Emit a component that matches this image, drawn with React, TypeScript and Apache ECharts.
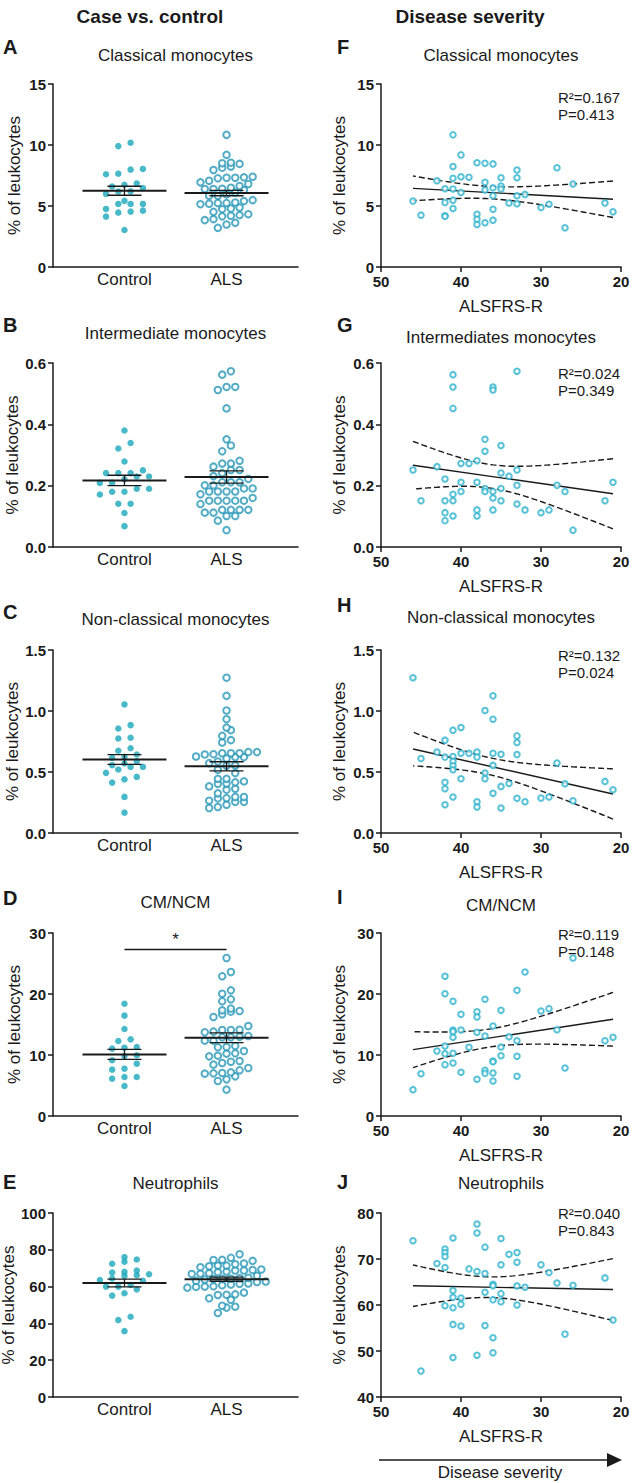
import React, { useEffect, useRef } from "react";
import * as echarts from "echarts";

const FONT = "'Liberation Sans', Arial, Helvetica, sans-serif";
const CTRL_COLOR = "#19a8bc";
const ALS_COLOR = "#2797b6";
const SEV_COLOR = "#2db3cd";
const INK = "#1a1a1a";

// ---------- texts ----------
const headers = ["Case vs. control", "Disease severity"];
const titlesLeft = ["Classical monocytes", "Intermediate monocytes", "Non-classical monocytes", "CM/NCM", "Neutrophils"];
const titlesRight = ["Classical monocytes", "Intermediates monocytes", "Non-classical monocytes", "CM/NCM", "Neutrophils"];
const lettersLeft = ["A", "B", "C", "D", "E"];
const lettersRight = ["F", "G", "H", "I", "J"];
const groupLabels = ["Control", "ALS"];
const yName = "% of leukocytes";
const xNameRight = "ALSFRS-R";
const rSquared = ["0.167", "0.024", "0.132", "0.119", "0.040"];
const pValues = ["0.413", "0.349", "0.024", "0.148", "0.843"];

// ---------- axes ----------
const yMinL = [0, 0, 0, 0, 0];
const yMaxL = [15, 0.6, 1.5, 30, 100];
const yStepL = [5, 0.2, 0.5, 10, 20];
const yMinR = [0, 0, 0, 0, 40];
const yMaxR = [15, 0.6, 1.5, 30, 80];
const yStepR = [5, 0.2, 0.5, 10, 10];
const yDecimals = [0, 1, 1, 0, 0];
const scoreMin = 20;
const scoreMax = 50;
const scoreStep = 10;

// ---------- control values (left column) ----------
const ctrlClassical = [10.18, 9.91, 8.04, 7.98, 7.65, 7.6, 6.85, 6.74, 6.6, 6.47, 6.2, 6.19, 5.99, 5.42, 5.17, 5.17, 5.17, 4.76, 4.62, 4.54, 4.46, 4.13, 3.03];
const ctrlIntermediate = [0.38, 0.339, 0.321, 0.279, 0.25, 0.241, 0.241, 0.241, 0.23, 0.23, 0.221, 0.209, 0.209, 0.19, 0.19, 0.18, 0.18, 0.171, 0.141, 0.141, 0.111, 0.068];
const ctrlNonClassical = [1.054, 0.884, 0.857, 0.781, 0.775, 0.695, 0.674, 0.643, 0.624, 0.616, 0.588, 0.57, 0.556, 0.542, 0.542, 0.52, 0.493, 0.46, 0.44, 0.413, 0.296, 0.167];
const ctrlRatio = [18.4, 16.45, 14.26, 12.57, 12.3, 11.31, 11.2, 11.04, 9.95, 9.84, 9.13, 8.58, 7.76, 7.6, 6.39, 6.39, 6.12, 4.92];
const ctrlNeutrophils = [76.0, 74.7, 73.5, 72.4, 68.7, 68.0, 67.6, 66.7, 66.2, 65.8, 64.4, 63.6, 63.1, 60.9, 60.0, 60.0, 58.5, 56.4, 55.1, 43.6, 41.8, 35.8];

// ---------- ALS patients: [ALSFRS-R, value] ----------
const alsClassical = [
  [46, 5.4], [45, 4.25], [43, 7.07], [42, 6.42], [42, 5.29], [42, 4.2], [42, 4.15],
  [41, 10.83], [41, 8.23], [41, 7.27], [41, 6.39], [41, 5.48], [41, 4.8],
  [40, 9.19], [40, 7.4], [40, 6.11], [39, 7.35], [38, 8.55], [38, 4.33], [38, 3.92], [38, 3.48],
  [37, 8.5], [37, 6.94], [37, 6.31], [37, 3.62], [36, 8.45], [36, 6.5], [36, 5.84], [36, 4.74], [36, 3.84],
  [35, 7.32], [35, 6.64], [35, 6.39], [34, 5.24], [33, 7.95], [33, 7.32], [33, 5.84], [33, 5.18],
  [32, 5.95], [30, 4.88], [29, 5.15], [28, 8.14], [27, 3.21], [26, 6.8], [22, 5.24], [21, 4.52],
];
const alsIntermediate = [
  [46, 0.251], [45, 0.151], [43, 0.262], [42, 0.222], [42, 0.151], [42, 0.112], [42, 0.086],
  [41, 0.562], [41, 0.522], [41, 0.452], [41, 0.172], [41, 0.151], [41, 0.101],
  [40, 0.272], [40, 0.211], [40, 0.181], [39, 0.272], [38, 0.281], [38, 0.211], [38, 0.121], [38, 0.101],
  [37, 0.351], [37, 0.312], [37, 0.191], [37, 0.181], [36, 0.522], [36, 0.512], [36, 0.181], [36, 0.16], [36, 0.121],
  [35, 0.331], [35, 0.241], [35, 0.191], [35, 0.151], [34, 0.231], [33, 0.573], [33, 0.251], [33, 0.201], [33, 0.14],
  [32, 0.121], [30, 0.112], [29, 0.121], [28, 0.201], [27, 0.181], [26, 0.055], [22, 0.151], [21, 0.211],
];
const alsNonClassical = [
  [46, 1.273], [45, 0.611], [43, 0.663], [42, 0.761], [42, 0.622], [42, 0.415], [42, 0.363], [42, 0.232],
  [41, 0.843], [41, 0.627], [41, 0.586], [41, 0.551], [41, 0.518], [41, 0.295],
  [40, 0.864], [40, 0.654], [40, 0.444], [39, 0.654], [38, 0.663], [38, 0.622], [38, 0.256], [38, 0.213],
  [37, 1.004], [37, 0.491], [37, 0.444], [36, 1.124], [36, 0.933], [36, 0.654], [36, 0.554], [36, 0.325],
  [35, 0.646], [35, 0.382], [35, 0.205], [34, 0.406], [33, 0.796], [33, 0.742], [33, 0.644], [33, 0.284],
  [32, 0.256], [30, 0.286], [29, 0.295], [28, 0.573], [27, 0.404], [26, 0.265], [22, 0.423], [21, 0.355],
];
const alsRatio = [
  [46, 4.32], [45, 6.94], [43, 10.66], [42, 22.9], [42, 20.05], [42, 11.48], [42, 10.22], [42, 8.42],
  [41, 18.8], [41, 14.1], [41, 13.83], [41, 12.9], [41, 10.27], [41, 8.69],
  [40, 16.67], [40, 14.1], [40, 7.16], [39, 11.26], [38, 17.1], [38, 16.23], [38, 13.72], [38, 6.01],
  [37, 19.13], [37, 13.11], [37, 7.49], [37, 6.99], [36, 14.75], [36, 9.02], [36, 8.9], [36, 7.05], [36, 5.74],
  [35, 17.32], [35, 11.31], [35, 9.89], [34, 13.0], [33, 20.6], [33, 12.35], [33, 9.78], [33, 6.5],
  [32, 23.6], [30, 17.21], [29, 17.6], [28, 14.15], [27, 7.87], [26, 25.9], [22, 12.35], [21, 12.9],
];
const alsNeutrophils = [
  [46, 73.96], [45, 45.67], [43, 69.02], [42, 72.15], [42, 71.42], [42, 70.55], [42, 68.15], [42, 59.85],
  [41, 74.55], [41, 63.13], [41, 61.67], [41, 59.42], [41, 55.78], [41, 48.58],
  [40, 61.53], [40, 60.15], [40, 55.42], [39, 67.85], [38, 77.6], [38, 75.64], [38, 67.27], [38, 49.09],
  [37, 72.58], [37, 66.84], [37, 62.76], [37, 55.56], [36, 64.51], [36, 64.2], [36, 61.16], [36, 52.87], [36, 49.6],
  [35, 74.47], [35, 68.73], [35, 62.47], [35, 60.73], [34, 71.05], [33, 71.42], [33, 69.31], [33, 64.15], [33, 60.0],
  [32, 63.85], [30, 68.73], [29, 67.05], [28, 64.8], [27, 53.67], [26, 64.29], [22, 65.89], [21, 56.73],
];

// ---------- mean ± SEM ----------
const meanCtrl = [6.25, 0.217, 0.602, 10.1, 62.0];
const semCtrl = [0.37, 0.017, 0.04, 0.82, 2.1];
const meanALS = [6.06, 0.228, 0.547, 12.84, 64.0];
const semALS = [0.22, 0.02, 0.037, 0.8, 1.1];
const sigBarValue = 27.4; // CM/NCM significance bar

const ctrlSets = [ctrlClassical, ctrlIntermediate, ctrlNonClassical, ctrlRatio, ctrlNeutrophils];
const alsSets = [alsClassical, alsIntermediate, alsNonClassical, alsRatio, alsNeutrophils];

// ---------- layout ----------
const rowTop = [84, 363, 650, 933, 1213];
const rowH = [183, 184, 183, 183, 184];
const leftX = 53;
const leftW = 245;
const rightX = 381;
const rightW = 240;
const catMin = 0.3;
const catMax = 2.7;
const titleYL = [55, 333, 619, 902, 1183];
const titleYR = [55, 337, 617, 905, 1183];
const letterYL = [47, 325, 612, 898, 1182];
const letterYR = [47, 325, 605, 897, 1182];
const statDY = [13, 10, 5, 1, 0];

function swarm(values: number[], center: number, gi: number, spacingPx: number, rowPx: number) {
  const pxPerY = rowH[gi] / (yMaxL[gi] - yMinL[gi]);
  const pxPerX = leftW / (catMax - catMin);
  const sorted = [...values].sort((a, b) => a - b);
  const rows: number[][] = [];
  let cur: number[] = [];
  for (const v of sorted) {
    if (cur.length && (v - cur[0]) * pxPerY >= rowPx) {
      rows.push(cur);
      cur = [];
    }
    cur.push(v);
  }
  if (cur.length) rows.push(cur);
  const out: number[][] = [];
  rows.forEach((row) => {
    const n = row.length;
    // alternate placement order so the row is not a diagonal
    const order = row.map((v, i) => ({ v, i }));
    order.forEach((o, k) => {
      out.push([center + ((k - (n - 1) / 2) * spacingPx) / pxPerX, o.v]);
    });
  });
  return out;
}

function tQuantile(df: number) {
  const z = 1.959964;
  return z + (z ** 3 + z) / (4 * df) + (5 * z ** 5 + 16 * z ** 3 + 3 * z) / (96 * df * df);
}

function regression(pts: number[][]) {
  const n = pts.length;
  const xm = pts.reduce((s, p) => s + p[0], 0) / n;
  const ym = pts.reduce((s, p) => s + p[1], 0) / n;
  let sxx = 0;
  let sxy = 0;
  pts.forEach((p) => {
    sxx += (p[0] - xm) ** 2;
    sxy += (p[0] - xm) * (p[1] - ym);
  });
  const b = sxy / sxx;
  const a = ym - b * xm;
  let sse = 0;
  pts.forEach((p) => {
    sse += (p[1] - a - b * p[0]) ** 2;
  });
  const s = Math.sqrt(sse / (n - 2));
  const t = tQuantile(n - 2);
  const xs = pts.map((p) => p[0]);
  const x0 = Math.min(...xs);
  const x1 = Math.max(...xs);
  const line = [
    [x0, a + b * x0],
    [x1, a + b * x1],
  ];
  const upper: number[][] = [];
  const lower: number[][] = [];
  const steps = 80;
  for (let k = 0; k <= steps; k++) {
    const x = x0 + ((x1 - x0) * k) / steps;
    const h = t * s * Math.sqrt(1 / n + (x - xm) ** 2 / sxx);
    upper.push([x, a + b * x + h]);
    lower.push([x, a + b * x - h]);
  }
  return { line, upper, lower };
}

const axisLineStyle = { color: INK, width: 1.5 };

function buildOption() {
  const grid: any[] = [];
  const xAxis: any[] = [];
  const yAxis: any[] = [];
  const series: any[] = [];
  const graphic: any[] = [];

  for (let i = 0; i < 5; i++) {
    grid.push({ left: leftX, top: rowTop[i], width: leftW, height: rowH[i], containLabel: false, outerBoundsMode: "none" });
  }
  for (let i = 0; i < 5; i++) {
    grid.push({ left: rightX, top: rowTop[i], width: rightW, height: rowH[i], containLabel: false, outerBoundsMode: "none" });
  }

  const yAxisBase = (gi: number, min: number, max: number, step: number, dec: number, gap: number) => ({
    type: "value",
    gridIndex: gi,
    min,
    max,
    interval: step,
    axisLine: { show: true, lineStyle: axisLineStyle },
    axisTick: { show: true, length: 5, lineStyle: axisLineStyle },
    splitLine: { show: false },
    axisLabel: {
      fontFamily: FONT,
      fontWeight: "bold",
      fontSize: 15,
      color: INK,
      margin: 7,
      formatter: (v: number) => v.toFixed(dec),
    },
    name: yName,
    nameLocation: "middle",
    nameRotate: 90,
    nameGap: gap,
    nameTextStyle: { fontFamily: FONT, fontSize: 17, color: INK },
  });

  // left column
  for (let i = 0; i < 5; i++) {
    xAxis.push({
      type: "value",
      gridIndex: i,
      min: catMin,
      max: catMax,
      axisLine: { show: true, lineStyle: axisLineStyle },
      axisTick: { show: false },
      splitLine: { show: false },
      axisLabel: {
        customValues: [1, 2],
        formatter: (v: number) => groupLabels[Math.round(v) - 1] ?? "",
        fontFamily: FONT,
        fontSize: 17,
        color: INK,
        margin: 4,
      },
    });
    yAxis.push(yAxisBase(i, yMinL[i], yMaxL[i], yStepL[i], yDecimals[i], 30));

    const ctrlPts = swarm(ctrlSets[i], 1, i, 12.3, 6.5);
    const alsPts = swarm(alsSets[i].map((p) => p[1]), 2, i, 8.7, 6.5);

    const ctrlSeries: any = {
      type: "scatter",
      xAxisIndex: i,
      yAxisIndex: i,
      data: ctrlPts,
      symbol: "circle",
      symbolSize: 6.5,
      itemStyle: { color: CTRL_COLOR },
      z: 2,
      silent: true,
    };
    if (i === 3) {
      ctrlSeries.markLine = {
        silent: true,
        symbol: ["none", "none"],
        lineStyle: { color: INK, width: 1.3, type: "solid" },
        label: { show: true, position: "middle", formatter: "*", fontSize: 17, color: INK, fontFamily: FONT, distance: 1 },
        data: [[{ coord: [1, sigBarValue] }, { coord: [2, sigBarValue] }]],
      };
    }
    series.push(ctrlSeries);
    series.push({
      type: "scatter",
      xAxisIndex: i,
      yAxisIndex: i,
      data: alsPts,
      symbol: "emptyCircle",
      symbolSize: 6.5,
      itemStyle: { color: ALS_COLOR, borderColor: ALS_COLOR, borderWidth: 1.5 },
      z: 2,
      silent: true,
    });
    series.push({
      type: "custom",
      xAxisIndex: i,
      yAxisIndex: i,
      z: 5,
      silent: true,
      encode: { x: 0, y: 1 },
      data: [
        [1, meanCtrl[i], semCtrl[i]],
        [2, meanALS[i], semALS[i]],
      ],
      renderItem: (params: any, api: any) => {
        const x = api.value(0);
        const m = api.value(1);
        const s = api.value(2);
        const c = api.coord([x, m]);
        const hi = api.coord([x, m + s]);
        const lo = api.coord([x, m - s]);
        const st = { stroke: INK, lineWidth: 1.3 };
        return {
          type: "group",
          children: [
            { type: "line", shape: { x1: c[0] - 42, y1: c[1], x2: c[0] + 42, y2: c[1] }, style: { stroke: INK, lineWidth: 2 } },
            { type: "line", shape: { x1: c[0], y1: hi[1], x2: c[0], y2: lo[1] }, style: st },
            { type: "line", shape: { x1: c[0] - 17, y1: hi[1], x2: c[0] + 17, y2: hi[1] }, style: st },
            { type: "line", shape: { x1: c[0] - 17, y1: lo[1], x2: c[0] + 17, y2: lo[1] }, style: st },
          ],
        };
      },
    });
  }

  // right column
  for (let i = 0; i < 5; i++) {
    const gi = 5 + i;
    xAxis.push({
      type: "value",
      gridIndex: gi,
      min: scoreMin,
      max: scoreMax,
      interval: scoreStep,
      inverse: true,
      axisLine: { show: true, lineStyle: axisLineStyle },
      axisTick: { show: true, length: 5, lineStyle: axisLineStyle },
      splitLine: { show: false },
      axisLabel: { fontFamily: FONT, fontWeight: "bold", fontSize: 15, color: INK, margin: 7 },
      name: xNameRight,
      nameLocation: "middle",
      nameGap: 31,
      nameTextStyle: { fontFamily: FONT, fontSize: 17, color: INK },
    });
    yAxis.push(yAxisBase(gi, yMinR[i], yMaxR[i], yStepR[i], yDecimals[i], 33));

    const fit = regression(alsSets[i]);
    const lineCommon = {
      type: "line",
      xAxisIndex: gi,
      yAxisIndex: gi,
      showSymbol: false,
      symbol: "none",
      silent: true,
      z: 1,
    };
    series.push({ ...lineCommon, data: fit.line, lineStyle: { color: INK, width: 1.4 } });
    series.push({ ...lineCommon, data: fit.upper, lineStyle: { color: INK, width: 1.4, type: [6, 3] } });
    series.push({ ...lineCommon, data: fit.lower, lineStyle: { color: INK, width: 1.4, type: [6, 3] } });
    series.push({
      type: "scatter",
      xAxisIndex: gi,
      yAxisIndex: gi,
      data: alsSets[i],
      symbol: "emptyCircle",
      symbolSize: 5.5,
      itemStyle: { color: SEV_COLOR, borderColor: SEV_COLOR, borderWidth: 1.4 },
      z: 3,
      silent: true,
    });

    graphic.push({
      type: "text",
      x: 558,
      y: rowTop[i] + statDY[i],
      style: { text: "R²=" + rSquared[i], font: `15px ${FONT}`, fill: INK, textAlign: "left", textVerticalAlign: "middle" },
    });
    graphic.push({
      type: "text",
      x: 558,
      y: rowTop[i] + statDY[i] + 17,
      style: { text: "P=" + pValues[i], font: `15px ${FONT}`, fill: INK, textAlign: "left", textVerticalAlign: "middle" },
    });
  }

  // headers
  graphic.push({ type: "text", x: 150, y: 16, style: { text: headers[0], font: `bold 19px ${FONT}`, fill: INK, textAlign: "center", textVerticalAlign: "middle" } });
  graphic.push({ type: "text", x: 470, y: 16, style: { text: headers[1], font: `bold 19px ${FONT}`, fill: INK, textAlign: "center", textVerticalAlign: "middle" } });

  for (let i = 0; i < 5; i++) {
    graphic.push({ type: "text", x: leftX + leftW / 2, y: titleYL[i], style: { text: titlesLeft[i], font: `17px ${FONT}`, fill: INK, textAlign: "center", textVerticalAlign: "middle" } });
    graphic.push({ type: "text", x: rightX + rightW / 2, y: titleYR[i], style: { text: titlesRight[i], font: `17px ${FONT}`, fill: INK, textAlign: "center", textVerticalAlign: "middle" } });
    graphic.push({ type: "text", x: 3, y: letterYL[i], style: { text: lettersLeft[i], font: `bold 20px ${FONT}`, fill: INK, textAlign: "left", textVerticalAlign: "middle" } });
    graphic.push({ type: "text", x: 337, y: letterYR[i], style: { text: lettersRight[i], font: `bold 20px ${FONT}`, fill: INK, textAlign: "left", textVerticalAlign: "middle" } });
  }

  // severity arrow
  graphic.push({ type: "line", shape: { x1: 379, y1: 1460, x2: 610, y2: 1460 }, style: { stroke: INK, lineWidth: 1.5 } });
  graphic.push({ type: "polygon", shape: { points: [[607, 1453], [622, 1460], [607, 1467]] }, style: { fill: INK } });
  graphic.push({ type: "text", x: 500, y: 1472, style: { text: "Disease severity", font: `17px ${FONT}`, fill: INK, textAlign: "center", textVerticalAlign: "middle" } });

  return {
    animation: false,
    backgroundColor: "#ffffff",
    textStyle: { fontFamily: FONT },
    grid,
    xAxis,
    yAxis,
    series,
    graphic,
  };
}

export default function App() {
  const ref = useRef<HTMLDivElement>(null);
  useEffect(() => {
    if (!ref.current) return;
    const chart = echarts.init(ref.current, undefined, { renderer: "svg" });
    chart.setOption(buildOption() as any);
    return () => chart.dispose();
  }, []);
  return <div ref={ref} style={{ position: "absolute", left: 0, top: 0, width: 633, height: 1483, background: "#fff" }} />;
}
